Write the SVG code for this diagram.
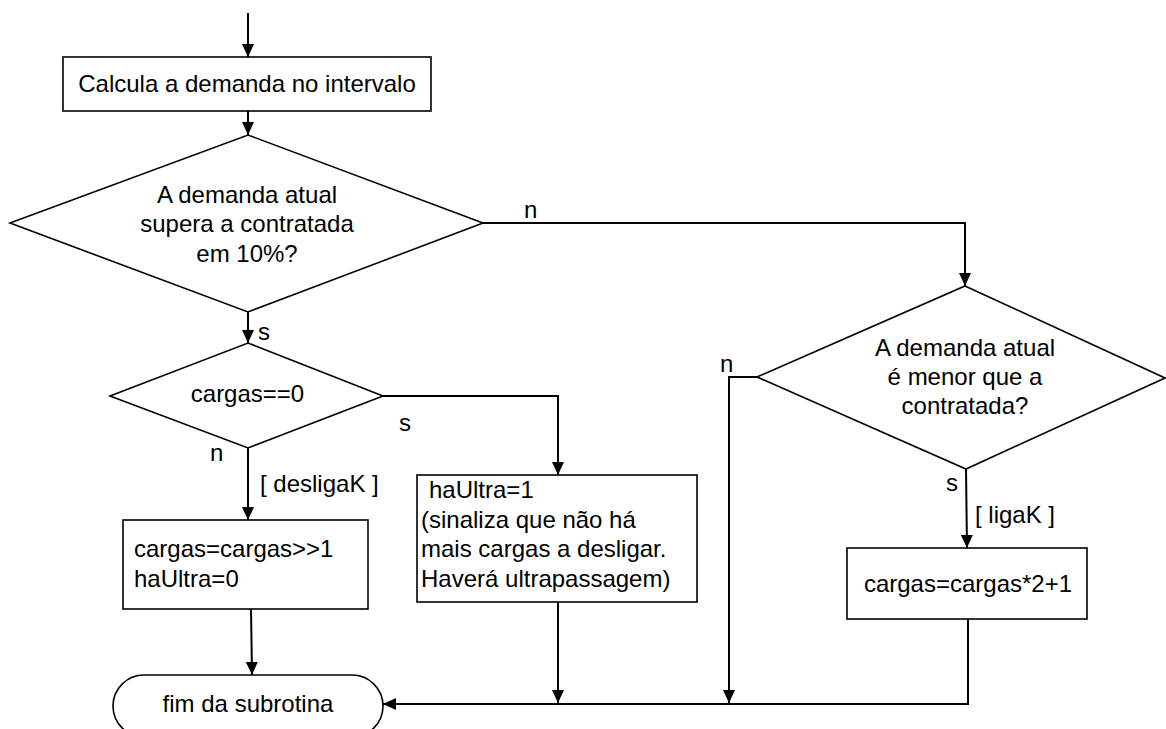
<svg xmlns="http://www.w3.org/2000/svg" width="1166" height="729" viewBox="0 0 1166 729">
  <style>
    .shape { fill: #ffffff; stroke: #000000; stroke-width: 1.6; }
    .conn { fill: none; stroke: #000000; stroke-width: 2; }
    text { font-family: "Liberation Sans", Arial, sans-serif; font-size: 24px; fill: #000000; }
    .c { text-anchor: middle; }
  </style>
  <defs>
    <marker id="arrow" markerUnits="userSpaceOnUse" markerWidth="14" markerHeight="14" refX="13" refY="6" orient="auto">
      <path d="M0,0 L13,6 L0,12 z" fill="#000000"/>
    </marker>
  </defs>

  <rect width="1166" height="729" fill="#ffffff"/>

  <!-- connectors -->
  <g id="connectors">
    <line class="conn" x1="248" y1="13" x2="248" y2="57" marker-end="url(#arrow)"/>
    <line class="conn" x1="248" y1="111" x2="248" y2="135" marker-end="url(#arrow)"/>
    <path class="conn" d="M483,223 H965 V286" marker-end="url(#arrow)"/>
    <line class="conn" x1="248" y1="312" x2="248" y2="343" marker-end="url(#arrow)"/>
    <path class="conn" d="M383,396 H558 V475" marker-end="url(#arrow)"/>
    <line class="conn" x1="248" y1="448" x2="248" y2="520" marker-end="url(#arrow)"/>
    <line class="conn" x1="251" y1="609" x2="252" y2="675" marker-end="url(#arrow)"/>
    <line class="conn" x1="558" y1="602" x2="558" y2="703" marker-end="url(#arrow)"/>
    <path class="conn" d="M757,377 H729 V703" marker-end="url(#arrow)"/>
    <line class="conn" x1="966" y1="469" x2="967" y2="548" marker-end="url(#arrow)"/>
    <path class="conn" d="M968,619 V704 H383" marker-end="url(#arrow)"/>
    <text x="524" y="218">n</text>
    <text x="258" y="340">s</text>
    <text x="399" y="431">s</text>
    <text x="210" y="461">n</text>
    <text x="260" y="492">[ desligaK ]</text>
    <text x="720" y="372">n</text>
    <text x="946" y="491">s</text>
    <text x="975" y="523">[ ligaK ]</text>
  </g>

  <g id="calcula">
    <rect class="shape" x="63" y="57" width="368" height="54"/>
    <text class="c" x="247" y="92">Calcula a demanda no intervalo</text>
  </g>

  <g id="supera">
    <polygon class="shape" points="248,135 483,223 248,312 10,223"/>
    <text class="c" x="247" y="202.5">A demanda atual</text>
    <text class="c" x="247" y="232">supera a contratada</text>
    <text class="c" x="247" y="261.5">em 10%?</text>
  </g>

  <g id="cargas-zero">
    <polygon class="shape" points="248,343 383,396 248,448 110,396"/>
    <text class="c" x="247.5" y="402">cargas==0</text>
  </g>

  <g id="desliga">
    <rect class="shape" x="123" y="520" width="245" height="89"/>
    <text x="134" y="557">cargas=cargas&gt;&gt;1</text>
    <text x="134" y="587">haUltra=0</text>
  </g>

  <g id="ultra">
    <rect class="shape" x="417" y="475" width="280" height="127"/>
    <text x="429" y="498">haUltra=1</text>
    <text x="421" y="528">(sinaliza que não há</text>
    <text x="421" y="557">mais cargas a desligar.</text>
    <text x="421" y="587">Haverá ultrapassagem)</text>
  </g>

  <g id="menor">
    <polygon class="shape" points="965,286 1165,378 966,469 757,377"/>
    <text class="c" x="965" y="356">A demanda atual</text>
    <text class="c" x="965" y="385">é menor que a</text>
    <text class="c" x="965" y="414">contratada?</text>
  </g>

  <g id="liga">
    <rect class="shape" x="847" y="548" width="240" height="71"/>
    <text class="c" x="968" y="592">cargas=cargas*2+1</text>
  </g>

  <g id="fim">
    <rect class="shape" x="113" y="675" width="270" height="62" rx="31" ry="31"/>
    <text class="c" x="248" y="712">fim da subrotina</text>
  </g>
</svg>
